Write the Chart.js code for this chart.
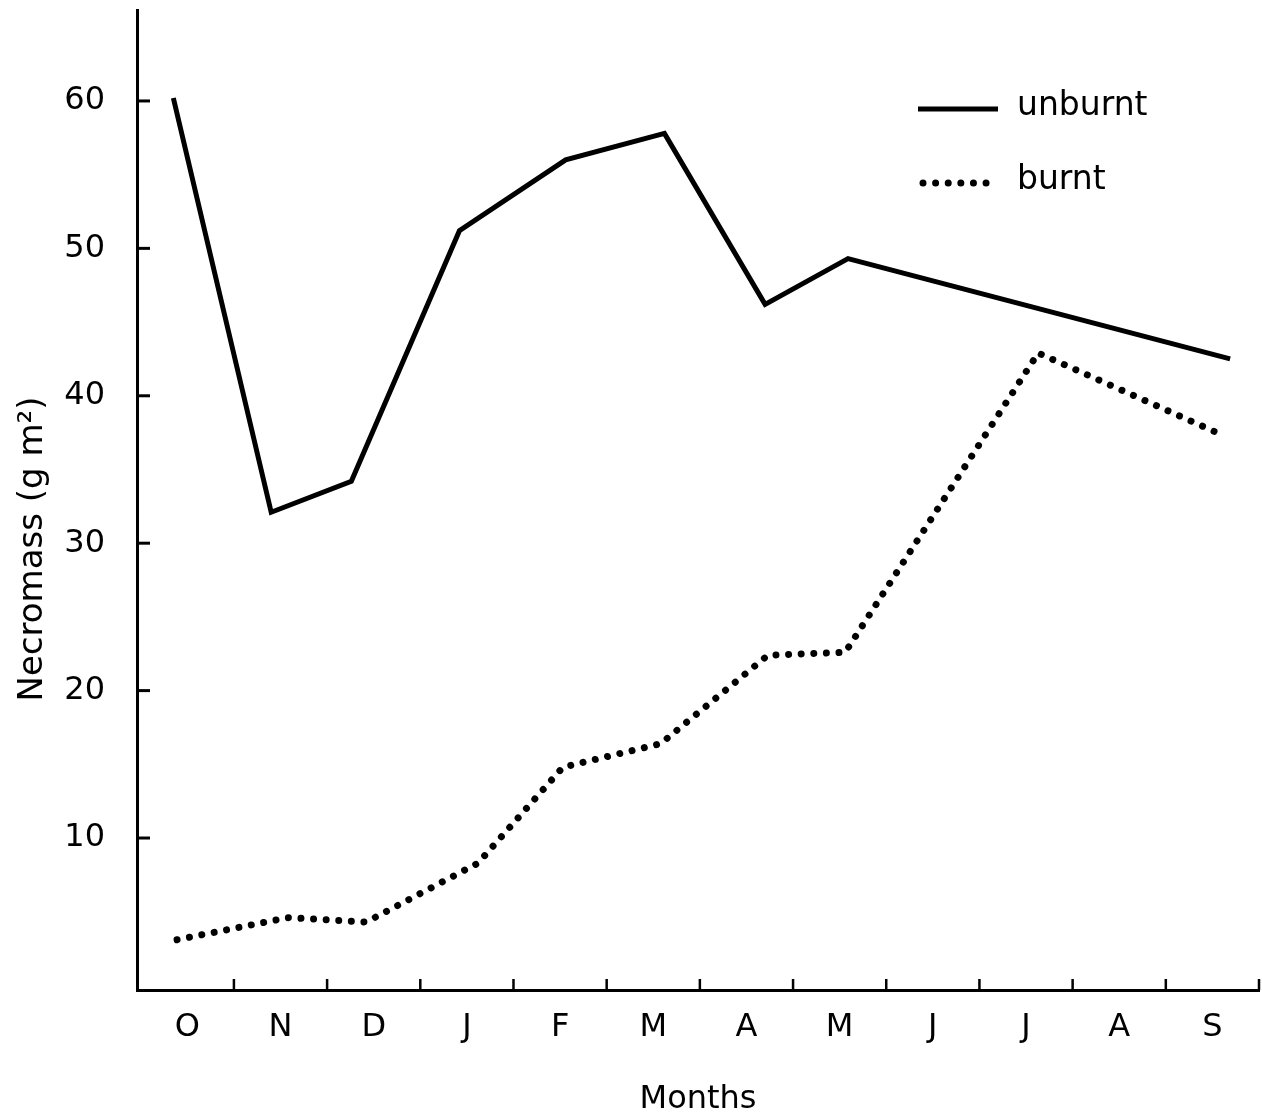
<!DOCTYPE html>
<html>
<head>
<meta charset="utf-8">
<script src="https://cdn.jsdelivr.net/npm/chart.js@4.4.1/dist/chart.umd.min.js"></script>
<style>
html, body { margin: 0; padding: 0; background: #fff; }
#wrap { width: 1262px; height: 1120px; }
</style>
</head>
<body>
<div id="wrap"><canvas id="chart" width="1262" height="1120"></canvas></div>
<script>
const months = ['O', 'N', 'D', 'J', 'F', 'M', 'A', 'M', 'J', 'J', 'A', 'S'];
const yTickValues = [10, 20, 30, 40, 50, 60];
// sampling positions in month units (0 = start of October)
const unburntX = [0.35, 1.40, 2.26, 3.42, 4.56, 5.62, 6.70, 7.59, 11.69];
const unburntY = [60.2, 32.1, 34.2, 51.2, 56.0, 57.8, 46.2, 49.3, 42.5];
const burntX = [0.39, 1.58, 2.42, 3.62, 4.53, 5.58, 6.73, 7.56, 9.63, 11.62];
const burntY = [3.1, 4.6, 4.3, 8.3, 14.8, 16.4, 22.4, 22.6, 42.9, 37.3];

const FONT = 'DejaVu Sans';
const yTitle = 'Necromass (g m\u00B2)';

function toPoints(xs, ys) {
    return xs.map((x, i) => ({ x: x, y: ys[i] }));
}

// small inward tick marks like the original figure
const innerTicks = {
    id: 'innerTicks',
    afterDraw(chart) {
        const ctx = chart.ctx;
        const xs = chart.scales.x, ys = chart.scales.y;
        const area = chart.chartArea;
        ctx.save();
        ctx.strokeStyle = '#000';
        ctx.lineCap = 'butt';
        ctx.lineWidth = 2.5;
        for (let i = 1; i <= months.length; i++) {
            const px = xs.getPixelForValue(i);
            ctx.beginPath();
            ctx.moveTo(px, area.bottom);
            ctx.lineTo(px, area.bottom - 11);
            ctx.stroke();
        }
        ctx.lineWidth = 3;
        yTickValues.forEach(v => {
            const py = ys.getPixelForValue(v);
            ctx.beginPath();
            ctx.moveTo(area.left, py);
            ctx.lineTo(area.left + 13, py);
            ctx.stroke();
        });
        // y title sits a bit below the middle of the axis in the original
        ctx.fillStyle = '#000';
        ctx.font = '34px "' + FONT + '"';
        ctx.textAlign = 'center';
        ctx.textBaseline = 'middle';
        ctx.translate(33, 549);
        ctx.rotate(-Math.PI / 2);
        ctx.fillText(yTitle, 0, 0);
        ctx.restore();
    }
};

// legend sitting inside the plot, top right
const insetLegend = {
    id: 'insetLegend',
    afterDraw(chart) {
        const ctx = chart.ctx;
        const rows = [109, 183];
        ctx.save();
        chart.data.datasets.forEach((ds, i) => {
            const y = rows[i];
            ctx.strokeStyle = ds.borderColor;
            ctx.lineWidth = ds.borderWidth;
            ctx.lineCap = ds.borderCapStyle || 'butt';
            ctx.setLineDash(ds.borderDash || []);
            ctx.beginPath();
            if (ds.borderDash) {
                ctx.moveTo(923, y);
                ctx.lineTo(993, y);
            } else {
                ctx.moveTo(918, y);
                ctx.lineTo(998, y);
            }
            ctx.stroke();
            ctx.setLineDash([]);
            ctx.fillStyle = '#000';
            ctx.font = '33px "' + FONT + '"';
            ctx.textBaseline = 'middle';
            ctx.textAlign = 'left';
            ctx.fillText(ds.label, 1017, y - 3);
        });
        ctx.restore();
    }
};

new Chart(document.getElementById('chart'), {
    type: 'line',
    data: {
        datasets: [
            {
                label: 'unburnt',
                data: toPoints(unburntX, unburntY),
                borderColor: '#000',
                borderWidth: 5,
                borderJoinStyle: 'miter',
                pointRadius: 0,
                tension: 0,
                fill: false
            },
            {
                label: 'burnt',
                data: toPoints(burntX, burntY),
                borderColor: '#000',
                borderWidth: 7,
                borderCapStyle: 'round',
                borderDash: [0.01, 12.6],
                pointRadius: 0,
                tension: 0,
                fill: false
            }
        ]
    },
    options: {
        responsive: false,
        animation: false,
        devicePixelRatio: 1,
        layout: { padding: { top: 10, right: 3, left: 0, bottom: 0 } },
        plugins: {
            legend: { display: false },
            tooltip: { enabled: false }
        },
        scales: {
            x: {
                type: 'linear',
                min: -0.04,
                max: 12,
                afterBuildTicks: scale => {
                    scale.ticks = months.map((m, i) => ({ value: i + 0.5 }));
                },
                afterFit: scale => {
                    scale.height = 130;
                    scale.paddingLeft = 0;
                    scale.paddingRight = 0;
                },
                grid: { display: false, drawTicks: false },
                border: { display: true, color: '#000', width: 3 },
                ticks: {
                    autoSkip: false,
                    maxRotation: 0,
                    padding: 18,
                    color: '#000',
                    font: { family: FONT, size: 32 },
                    callback: (v, i) => months[i]
                },
                title: {
                    display: true,
                    text: 'Months',
                    color: '#000',
                    font: { family: FONT, size: 32 },
                    padding: { top: 0, bottom: 1 }
                }
            },
            y: {
                type: 'linear',
                min: -0.31,
                max: 66.17,
                afterBuildTicks: scale => {
                    scale.ticks = yTickValues.map(v => ({ value: v }));
                },
                afterFit: scale => {
                    scale.width = 137;
                    scale.paddingTop = 0;
                    scale.paddingBottom = 0;
                },
                grid: { display: false, drawTicks: false },
                border: { display: true, color: '#000', width: 3 },
                ticks: {
                    padding: 32,
                    color: '#000',
                    font: { family: FONT, size: 32 }
                },
                title: { display: false }
            }
        }
    },
    plugins: [innerTicks, insetLegend]
});
</script>
</body>
</html>
